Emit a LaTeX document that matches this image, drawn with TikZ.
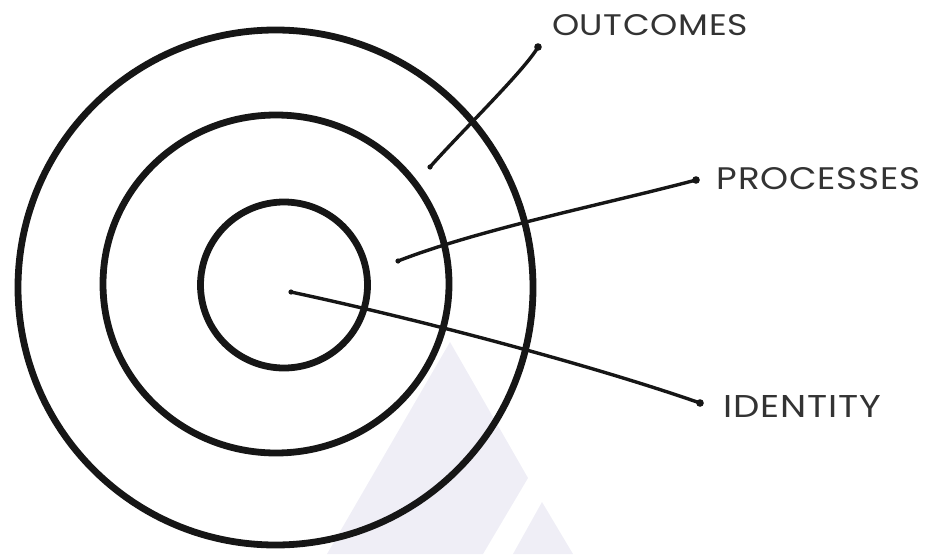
\documentclass[tikz,border=0pt]{standalone}
\usepackage{fontspec}
\newfontfamily\labelfont[LetterSpace=2]{Poppins}
\definecolor{ink}{HTML}{161616}
\definecolor{txt}{HTML}{333333}
\definecolor{wm}{HTML}{EFEEF6}
\begin{document}
\begin{tikzpicture}[x=1pt,y=-1pt,
  ring/.style={draw=ink,line width=6.8pt},
  leader/.style={draw=ink,line width=3.4pt,line cap=round},
  enddot/.style={fill=ink},
  lbl/.style={inner sep=0pt,text=txt}]
\useasboundingbox (0,0) rectangle (925,554);
% faint watermark
\fill[wm] (450,342) -- (327,554) -- (483,554) -- (528,478) -- cycle;
\fill[wm] (542,502) -- (513,554) -- (573,554) -- cycle;
% rings
\draw[ring] (275.5,287.5) ellipse [x radius=257.5pt, y radius=257.5pt];
\draw[ring] (276,284) ellipse [x radius=173pt, y radius=169pt];
\draw[ring] (284,285) ellipse [x radius=83.5pt, y radius=83pt];
% labels
\node[lbl] (outc) at (650,25) {\resizebox{196pt}{21pt}{\labelfont OUTCOMES}};
\node[lbl] (proc) at (818.5,179) {\resizebox{203pt}{22pt}{\labelfont PROCESSES}};
\node[lbl] (iden) at (802.5,406) {\resizebox{157pt}{22pt}{\labelfont IDENTITY}};
% leader ends
\coordinate (o1) at (430,167); \coordinate (o2) at (538,47);
\coordinate (p1) at (398,261); \coordinate (p2) at (696,180);
\coordinate (i1) at (291,292); \coordinate (i2) at (700,403);
% leaders
\draw[leader] (o1) .. controls (460,133) and (525,70) .. (o2);
\draw[leader] (p1) .. controls (480,229) and (610,203) .. (p2);
\draw[leader] (i1) .. controls (431,322) and (600,368) .. (i2);
\foreach \e in {o2,p2,i2} \fill[enddot] (\e) circle[radius=3.8pt];
\foreach \e in {o1,p1,i1} \fill[enddot] (\e) circle[radius=2.6pt];
\end{tikzpicture}
\end{document}
